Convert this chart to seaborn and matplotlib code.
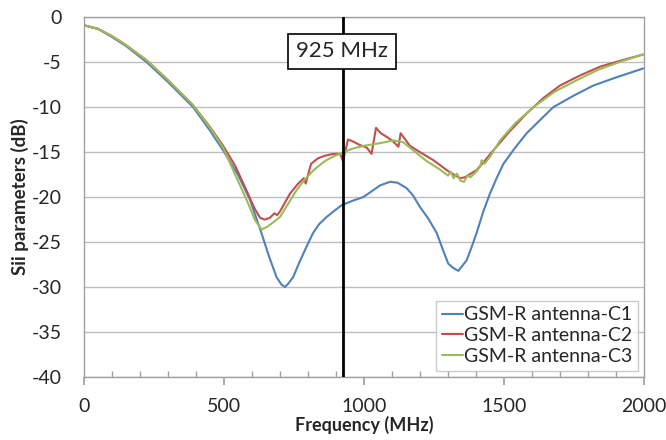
import pandas as pd
import seaborn as sns
import matplotlib.pyplot as plt
from matplotlib.ticker import MultipleLocator

# Frequency (MHz) / S-parameter (dB)
freq_c1 = [0, 50, 100, 150, 224, 300, 390, 450, 497, 550, 593, 634, 660, 688, 705, 718,
           730, 747, 770, 795, 818, 840, 867, 895, 920, 960, 997, 1030, 1057, 1093, 1120,
           1152, 1175, 1200, 1230, 1260, 1280, 1301, 1320, 1337, 1352, 1367, 1385, 1402,
           1425, 1450, 1475, 1498, 1540, 1581, 1630, 1676, 1750, 1819, 1900, 1997]
s_c1 = [-0.9, -1.3, -2.2, -3.2, -5.0, -7.2, -10.0, -12.6, -14.8, -17.5, -20.3, -24.0, -26.5,
        -28.9, -29.7, -30.0, -29.6, -28.9, -27.2, -25.5, -24.0, -23.0, -22.2, -21.5, -20.9,
        -20.4, -20.0, -19.3, -18.7, -18.3, -18.4, -19.0, -19.8, -21.1, -22.4, -24.0, -25.7,
        -27.4, -27.9, -28.2, -27.6, -27.0, -25.5, -24.0, -21.7, -19.6, -17.8, -16.3, -14.5,
        -12.9, -11.4, -10.0, -8.7, -7.6, -6.7, -5.7]

freq_c2 = [0, 50, 100, 150, 224, 300, 390, 450, 497, 540, 581, 610, 629, 645, 664, 680, 690,
           700, 736, 765, 785, 792, 811, 835, 860, 890, 915, 925, 943, 960, 985, 1010, 1027,
           1043, 1060, 1081, 1100, 1123, 1131, 1164, 1200, 1248, 1300, 1343, 1360, 1402,
           1430, 1462, 1520, 1581, 1640, 1700, 1770, 1843, 1920, 1997]
s_c2 = [-0.9, -1.3, -2.1, -3.1, -4.8, -7.0, -9.8, -12.2, -14.3, -16.5, -19.3, -21.3, -22.3,
        -22.5, -22.3, -21.8, -22.0, -21.6, -19.6, -18.5, -17.9, -18.5, -16.3, -15.7, -15.4,
        -15.2, -15.2, -16.0, -13.6, -13.8, -14.2, -14.5, -15.2, -12.3, -12.9, -13.3, -13.7,
        -14.4, -12.9, -14.3, -15.0, -15.9, -17.1, -17.9, -17.8, -17.0, -16.0, -14.8, -12.7,
        -10.7, -9.0, -7.6, -6.5, -5.5, -4.8, -4.15]

freq_c3 = [0, 50, 100, 150, 224, 300, 390, 450, 497, 540, 581, 610, 634, 655, 680, 700, 730,
           760, 790, 820, 860, 890, 920, 960, 1000, 1057, 1105, 1140, 1180, 1224, 1270, 1300,
           1310, 1320, 1332, 1345, 1357, 1370, 1380, 1400, 1415, 1420, 1430, 1450, 1486,
           1540, 1605, 1680, 1760, 1840, 1920, 1997]
s_c3 = [-0.9, -1.3, -2.1, -3.1, -4.8, -7.0, -9.8, -12.3, -14.5, -17.5, -20.3, -22.5, -23.6,
        -23.3, -22.7, -22.2, -20.7, -19.2, -18.0, -17.0, -16.0, -15.5, -15.1, -14.6, -14.3,
        -14.0, -13.7, -13.9, -14.9, -16.0, -16.9, -17.6, -17.2, -17.9, -17.4, -18.2, -18.3,
        -17.6, -17.8, -17.2, -16.6, -15.9, -16.3, -15.5, -13.7, -11.8, -10.0, -8.3, -7.0,
        -5.8, -4.9, -4.15]

labels = ['GSM-R antenna-C1', 'GSM-R antenna-C2', 'GSM-R antenna-C3']
colors = ['#4F81BD', '#C0504D', '#9BBB59']
marker_freq = 925

sns.set_theme(style="white")
plt.rcParams['font.family'] = ['Lato', 'DejaVu Sans']
plt.rcParams['axes.unicode_minus'] = False

fig = plt.figure(figsize=(6.66, 4.4), dpi=100)
ax = fig.add_axes([0.126, 0.143, 0.841, 0.818])

for f, s, lab, c in zip([freq_c1, freq_c2, freq_c3], [s_c1, s_c2, s_c3], labels, colors):
    sns.lineplot(x=f, y=s, ax=ax, color=c, label=lab, linewidth=1.5)

# 925 MHz marker line and label
ax.axvline(marker_freq, color='black', linewidth=2, zorder=5)
ax.text(marker_freq - 4, -3.8, '925 MHz', fontsize=16, ha='center', va='center', zorder=6,
        bbox=dict(boxstyle='square,pad=0.35', facecolor='white', edgecolor='black', linewidth=1.2))

ax.set_xlim(0, 2000)
ax.set_ylim(-40, 0)
ax.xaxis.set_major_locator(MultipleLocator(500))
ax.xaxis.set_minor_locator(MultipleLocator(100))
ax.yaxis.set_major_locator(MultipleLocator(5))
ax.grid(axis='y', color='#BFBFBF', linewidth=1)
ax.set_axisbelow(True)
for sp in ax.spines.values():
    sp.set_color('#A0A0A0')
    sp.set_linewidth(1)
ax.tick_params(axis='x', which='major', direction='out', length=6, color='#A0A0A0',
               labelsize=14, bottom=True, pad=9)
ax.tick_params(axis='x', which='minor', direction='in', length=4, color='#A0A0A0', bottom=True)
ax.tick_params(axis='y', which='major', length=0, labelsize=14, pad=16)

ax.set_xlabel('Frequency (MHz)', fontsize=13, fontweight='bold', labelpad=1)
ax.set_ylabel('Sii parameters (dB)', fontsize=13.5, fontweight='bold', labelpad=2)

leg = ax.legend(loc='lower right', fontsize=14, frameon=True, fancybox=False,
                handlelength=1.1, handletextpad=0.05, borderpad=0.3, labelspacing=0.2,
                borderaxespad=0, bbox_to_anchor=(0.99, 0.017))
leg.get_frame().set_edgecolor('#BFBFBF')
leg.get_frame().set_linewidth(1)

plt.savefig('out.png', dpi=100)
